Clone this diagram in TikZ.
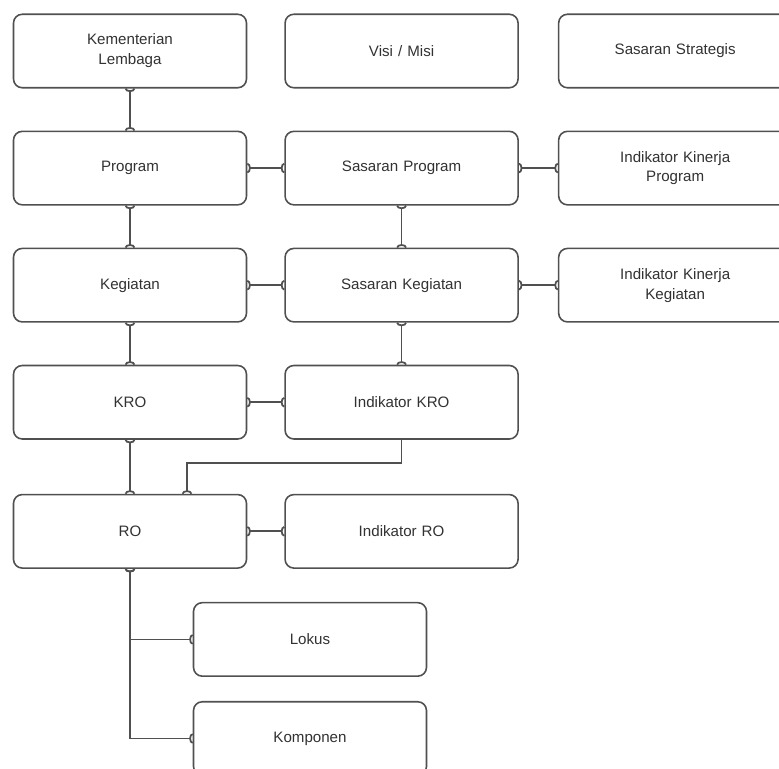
\documentclass[tikz,border=0pt]{standalone}
\usepackage{fontspec}
\setmainfont{Liberation Sans}
\usepackage{tikz}
\usetikzlibrary{positioning, arrows.meta}
\definecolor{linegray}{RGB}{80, 80, 80}
\definecolor{textgray}{RGB}{50, 50, 50}

\begin{document}
\begin{tikzpicture}[
      entbox/.style={draw=linegray, line width=0.9pt, fill=white, rounded corners=5pt, minimum width=4.66cm, minimum height=1.47cm, text width=4.2cm, align=center, text=textgray, font=\fontsize{8.6}{11.3}\selectfont, inner sep=2pt},
      link/.style={draw=linegray, line width=1pt, {Arc Barb[reversed, length=2pt, width=6pt]}-{Arc Barb[reversed, length=2pt, width=6pt]}},
      linkend/.style={draw=linegray, line width=1pt, -{Arc Barb[reversed, length=2pt, width=6pt]}}
    ]
      \useasboundingbox (0,0) rectangle (15.58,-15.38);

      % baris atas
      \node[entbox] (kl) at (2.6,-1.02) {Kementerian\\Lembaga};
      \node[entbox, right=0.74cm of kl] (visi) {Visi / Misi};
      \node[entbox, right=0.78cm of visi] (ss) {Sasaran Strategis};

      \node[entbox, below=0.84cm of kl] (prog) {Program};
      \node[entbox, right=0.74cm of prog] (sprog) {Sasaran Program};
      \node[entbox, right=0.78cm of sprog] (ikprog) {Indikator Kinerja\\Program};

      \node[entbox, below=0.84cm of prog] (keg) {Kegiatan};
      \node[entbox, right=0.74cm of keg] (skeg) {Sasaran Kegiatan};
      \node[entbox, right=0.78cm of skeg] (ikkeg) {Indikator Kinerja\\Kegiatan};

      \node[entbox, below=0.84cm of keg] (kro) {KRO};
      \node[entbox, right=0.74cm of kro] (ikro) {Indikator KRO};

      \node[entbox, below=1.08cm of kro] (ro) {RO};
      \node[entbox, right=0.74cm of ro] (iro) {Indikator RO};

      \node[entbox, below=0.66cm of ro, xshift=3.6cm] (lokus) {Lokus};
      \node[entbox, below=0.48cm of lokus] (komp) {Komponen};

      \draw[link] (kl) -- (prog);
      \draw[link] (prog) -- (keg);
      \draw[link] (keg) -- (kro);
      \draw[link] (kro) -- (ro);

      \draw[link] (prog) -- (sprog);
      \draw[link] (sprog) -- (ikprog);
      \draw[link] (keg) -- (skeg);
      \draw[link] (skeg) -- (ikkeg);
      \draw[link] (sprog) -- (skeg);
      \draw[link] (skeg) -- (ikro);
      \draw[link] (kro) -- (ikro);
      \draw[link] (ro) -- (iro);

      \draw[linkend] (ikro.south) -- ++(0,-0.46) -| ([xshift=1.14cm]ro.north);
      \draw[link] (ro.south) |- (lokus.west);
      \draw[link] (ro.south) |- (komp.west);
    \end{tikzpicture}
\end{document}
